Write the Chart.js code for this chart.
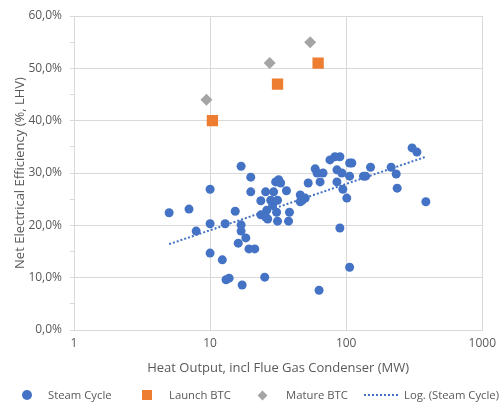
<!DOCTYPE html>
<html>
<head>
<meta charset="utf-8">
<script src="https://cdn.jsdelivr.net/npm/chart.js@4.4.1/dist/chart.umd.min.js"></script>
<style>
  body { margin: 0; background: #fff; }
  #wrap { position: relative; width: 502px; height: 402px; }
  #legend { position: absolute; left: 0; top: 386px; width: 502px; height: 18px;
            font-family: "Open Sans", sans-serif; font-size: 11.3px; color: #595959; }
  .lbl { position: absolute; top: 0; line-height: 18px; white-space: nowrap; }
  .mk { position: absolute; }
</style>
</head>
<body>
<div id="wrap">
  <canvas id="chart" width="502" height="402"></canvas>
  <div id="legend">
    <div class="mk" style="left:22px;top:4px;width:10px;height:10px;border-radius:50%;background:#4472C4"></div>
    <div class="lbl" style="left:48px">Steam Cycle</div>
    <div class="mk" style="left:142px;top:4px;width:10px;height:10px;background:#ED7D31"></div>
    <div class="lbl" style="left:169px">Launch BTC</div>
    <div class="mk" style="left:259px;top:6px;width:7px;height:7px;background:#A5A5A5;transform:rotate(45deg)"></div>
    <div class="lbl" style="left:286px">Mature BTC</div>
    <div class="mk" style="left:364px;top:8px;width:34px;height:0;border-top:2px dotted #4472C4"></div>
    <div class="lbl" style="left:404px">Log. (Steam Cycle)</div>
  </div>
</div>
<script>
// Steam cycle plants (MW heat, % LHV)
var steamX = [5.0, 7.0, 7.9, 10.0, 10.0, 12.3, 12.9, 13.1, 13.8, 15.3, 16.1, 16.9, 16.9, 16.9, 10.0, 17.2, 18.3, 19.3, 21.3, 19.9,
              19.9, 23.6, 23.6, 26.1, 26.5, 25.6, 29.3, 30.3, 33.0, 36.4, 27.9, 31.3, 28.8, 30.8, 31.3, 37.7, 38.3, 25.2, 46.0, 47.6,
              50.0, 46.0, 52.6, 59.2, 61.1, 67.6, 64.3, 63.2, 76.0, 82.6, 89.9, 85.5, 92.9, 85.5, 94.5, 101, 106, 110, 106, 89.9,
              106, 134, 139, 151, 214, 233, 237, 305, 331, 385, 31.9, 25.6];
var steamY = [22.4, 23.1, 18.9, 20.3, 14.7, 13.4, 20.3, 9.6, 9.9, 22.7, 16.6, 18.9, 20.1, 31.3, 26.9, 8.6, 17.6, 15.5, 15.5, 29.2,
              26.4, 24.7, 22.0, 22.9, 21.2, 26.4, 26.4, 28.3, 28.1, 26.6, 24.8, 24.8, 23.9, 22.5, 20.8, 20.8, 22.5, 10.1, 25.8, 24.8,
              25.2, 24.5, 28.1, 30.8, 30.0, 30.0, 28.3, 7.6, 32.5, 33.1, 33.1, 30.6, 30.0, 28.3, 26.9, 25.2, 31.9, 31.9, 29.4, 19.5,
              12.0, 29.4, 29.4, 31.1, 31.1, 29.8, 27.1, 34.8, 34.0, 24.5, 28.7, 21.6];
var launchX = [10.4, 31.3, 62.2];
var launchY = [40.0, 47.0, 51.0];
var matureX = [9.4, 27.4, 54.4];
var matureY = [44.0, 51.0, 55.0];
// log trend ends (straight on a log axis)
var trendX = [5.0, 385];
var trendY = [16.4, 33.1];
var xTicks = [1, 10, 100, 1000];

function pts(xs, ys) {
    return xs.map(function(x, i) { return { x: x, y: ys[i] }; });
}

var textColor = '#595959';
var gridColor = '#d9d9d9';
var font = { family: '"Open Sans", sans-serif', size: 12 };

new Chart(document.getElementById('chart'), {
    type: 'scatter',
    data: {
        datasets: [
            { label: 'Log. (Steam Cycle)', data: pts(trendX, trendY), showLine: true, pointRadius: 0,
              borderColor: '#4472C4', borderWidth: 2, borderDash: [2, 2], order: 0 },
            { label: 'Steam Cycle', data: pts(steamX, steamY), pointStyle: 'circle', pointRadius: 4.5,
              backgroundColor: '#4472C4', borderColor: '#4472C4', borderWidth: 0, order: 1 },
            { label: 'Launch BTC', data: pts(launchX, launchY), pointStyle: 'rect', pointRadius: 8,
              backgroundColor: '#ED7D31', borderColor: '#ED7D31', borderWidth: 0, order: 2 },
            { label: 'Mature BTC', data: pts(matureX, matureY), pointStyle: 'rectRot', pointRadius: 6,
              backgroundColor: '#A5A5A5', borderColor: '#A5A5A5', borderWidth: 0, order: 3 }
        ]
    },
    options: {
        responsive: false,
        animation: false,
        layout: { padding: { left: 8, right: 15, top: 16, bottom: 22 } },
        plugins: { legend: { display: false }, tooltip: { enabled: false } },
        scales: {
            x: {
                type: 'logarithmic',
                min: 1,
                max: 1000,
                afterBuildTicks: function(scale) {
                    scale.ticks = xTicks.map(function(v) { return { value: v }; });
                },
                afterFit: function(scale) { scale.height = 50; },
                ticks: {
                    color: textColor, font: font, padding: 6, autoSkip: false, maxRotation: 0,
                    callback: function(v) { return String(v); }
                },
                grid: { color: gridColor, drawTicks: false },
                border: { color: gridColor },
                title: { display: true, text: 'Heat Output, incl Flue Gas Condenser (MW)',
                         color: textColor, font: { family: font.family, size: 13 }, padding: { top: 6 } }
            },
            y: {
                min: 0,
                max: 60,
                afterFit: function(scale) { scale.width = 66; },
                ticks: {
                    stepSize: 5, color: textColor, font: font, padding: 8,
                    callback: function(v) { return v % 10 === 0 ? v.toFixed(1).replace('.', ',') + '%' : ''; }
                },
                grid: {
                    color: function(ctx) { return ctx.tick && ctx.tick.value % 10 === 0 ? gridColor : 'rgba(0,0,0,0)'; },
                    tickColor: gridColor,
                    tickLength: 4
                },
                border: { color: gridColor },
                title: { display: true, text: 'Net Electrical Efficiency (%, LHV)',
                         color: textColor, font: { family: font.family, size: 13 } }
            }
        }
    }
});
</script>
</body>
</html>
